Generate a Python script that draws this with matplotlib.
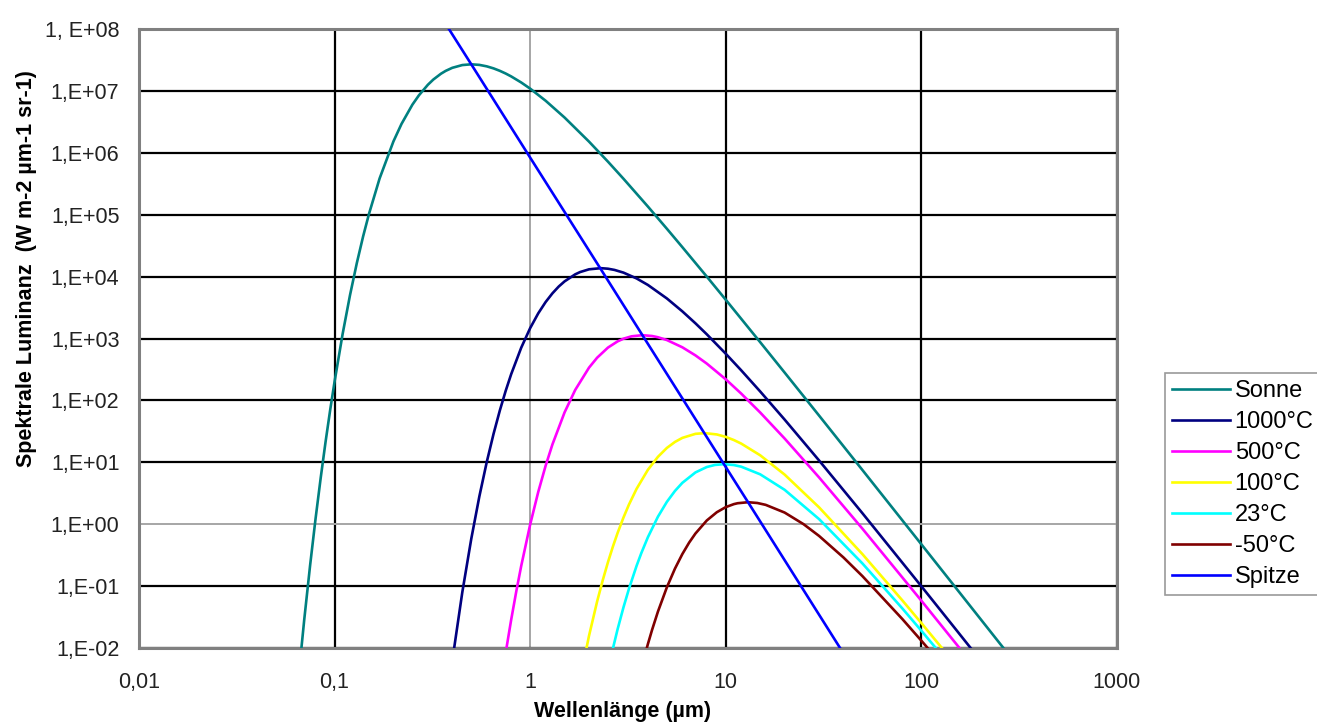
import numpy as np
import matplotlib
matplotlib.use("Agg")
import matplotlib.pyplot as plt
from matplotlib.ticker import FixedLocator, NullLocator

plt.rcParams['font.family'] = ['Liberation Sans', 'DejaVu Sans']

# values (W m-2 um-1 sr-1 over wavelength in um)
sonne_x = [0.06, 0.065, 0.07, 0.075, 0.08, 0.085, 0.09, 0.095, 0.1, 0.11, 0.12, 0.13, 0.14,
           0.15, 0.17, 0.2, 0.22, 0.25, 0.27, 0.3, 0.32, 0.35, 0.37, 0.4, 0.45, 0.5, 0.55,
           0.6, 0.65, 0.7, 0.75, 0.8, 0.9, 1, 1.2, 1.5, 2, 2.5, 3, 4, 5, 6, 8, 10, 15, 20,
           30, 50, 100, 200, 300]
sonne_y = [1.7e-4, 2.73e-3, 2.88e-2, 0.2166, 1.24, 5.67, 21.6, 70.2, 200, 1188, 5040,
           1.656e4, 4.469e4, 1.03e5, 3.858e5, 1.527e6, 2.93e6, 5.99e6, 8.485e6, 1.256e7,
           1.5267e7, 1.895e7, 2.106e7, 2.36e7, 2.615e7, 2.688e7, 2.631e7, 2.492e7, 2.31e7,
           2.109e7, 1.907e7, 1.713e7, 1.368e7, 1.088e7, 6.934e6, 3.71e6, 1.515e6, 7.185e5,
           3.81e5, 1.354e5, 5.932e4, 2.99e4, 1.0e4, 4229, 872, 281.8, 56.9, 7.49, 0.474,
           0.0298, 5.9e-3]

t1000_x = [0.4, 0.45, 0.5, 0.55, 0.6, 0.65, 0.7, 0.75, 0.8, 0.9, 1, 1.1, 1.2, 1.3, 1.4,
           1.5, 1.7, 1.8, 2, 2.3, 2.5, 2.7, 3, 3.5, 4, 5, 6, 7, 8, 10, 12, 15, 20, 30, 50,
           100, 150, 200]
t1000_y = [6.24e-3, 0.0798, 0.58, 2.815, 10.1, 28.82, 68.9, 143.1, 265.7, 709.2, 1470,
           2551, 3886, 5371, 6912, 8377, 1.0881e4, 1.1841e4, 1.3115e4, 1.3686e4, 1.341e4,
           1.2815e4, 1.1597e4, 9345, 7329, 4438, 2745, 1760, 1169.6, 568, 305.9, 139.5,
           49.0, 10.71, 1.503, 0.0995, 0.02004, 6.4e-3]

t500_x = [0.7, 0.75, 0.8, 0.85, 0.9, 1, 1.1, 1.2, 1.3, 1.5, 1.7, 2, 2.2, 2.5, 2.8, 3, 3.3,
          3.75, 4.2, 4.5, 5, 6, 7, 8, 10, 12, 15, 20, 30, 50, 100, 150, 200]
t500_y = [2.02e-3, 8.41e-3, 0.0287, 0.0832, 0.2112, 0.986, 3.323, 8.81, 19.46, 64.2,
          147.7, 338.4, 489.5, 713.8, 899.6, 992.9, 1085.3, 1131, 1097.7, 1049, 944.7,
          721.1, 533.7, 393.4, 219.3, 128.8, 63.8, 24.23, 5.70, 0.845, 0.0582, 0.01187,
          3.82e-3]

t100_x = [1.8, 2, 2.2, 2.35, 2.5, 2.65, 2.8, 3, 3.2, 3.5, 4, 4.5, 5, 5.5, 6, 7, 7.8, 9,
          10, 11, 12, 15, 20, 30, 50, 80, 100, 150]
t100_y = [3.14e-3, 0.01578, 0.0565, 0.1243, 0.2444, 0.4372, 0.7236, 1.283, 2.077, 3.726,
          7.573, 12.256, 17.07, 21.35, 24.82, 28.83, 29.63, 28.19, 25.75, 22.90, 20.06,
          12.99, 6.335, 1.874, 0.3279, 0.05869, 0.02531, 5.35e-3]

t23_x = [2.6, 2.8, 3, 3.2, 3.5, 3.7, 4, 4.5, 5, 5.5, 6, 7, 8, 8.8, 9.8, 11, 12, 15, 20,
         30, 50, 80, 100, 150]
t23_y = [7.69e-3, 0.02016, 0.04543, 0.09048, 0.2124, 0.3407, 0.6177, 1.321, 2.297, 3.449,
         4.664, 6.866, 8.396, 9.069, 9.33, 9.038, 8.498, 6.399, 3.596, 1.21, 0.2321,
         0.0435, 0.01904, 4.099e-3]

tm50_x = [3.8, 4, 4.2, 4.5, 5, 5.5, 6, 6.5, 7, 8, 9, 10, 11, 11.5, 13, 14.5, 16, 20, 25,
          30, 40, 50, 80, 100, 120]
tm50_y = [6.43e-3, 0.01162, 0.0196, 0.03866, 0.09566, 0.1918, 0.3298, 0.5051, 0.7079,
          1.1495, 1.5616, 1.889, 2.111, 2.183, 2.266, 2.203, 2.055, 1.5425, 1.0009, 0.6467,
          0.2899, 0.14484, 0.02934, 0.013151, 6.728e-3]

spitze_x = [0.35, 0.5, 1, 2.28, 3.75, 7.77, 9.79, 13, 40]
spitze_y = [1.594e8, 2.69e7, 8.37e5, 1.37e4, 1131, 29.6, 9.33, 2.27, 8.18e-3]

series = [
    ("Sonne", sonne_x, sonne_y, "#008080"),
    ("1000°C", t1000_x, t1000_y, "#000080"),
    ("500°C", t500_x, t500_y, "#FF00FF"),
    ("100°C", t100_x, t100_y, "#FFFF00"),
    ("23°C", t23_x, t23_y, "#00FFFF"),
    ("-50°C", tm50_x, tm50_y, "#800000"),
    ("Spitze", spitze_x, spitze_y, "#0000FF"),
]

x_ticks = [0.01, 0.1, 1, 10, 100, 1000]
x_labels = ["0,01", "0,1", "1", "10", "100", "1000"]
y_ticks = [1e-2, 1e-1, 1e0, 1e1, 1e2, 1e3, 1e4, 1e5, 1e6, 1e7, 1e8]
y_labels = ["1,E-02", "1,E-01", "1,E+00", "1,E+01", "1,E+02", "1,E+03", "1,E+04",
            "1,E+05", "1,E+06", "1,E+07", "1, E+08"]

fig = plt.figure(figsize=(13.17, 7.23), dpi=100)
ax = fig.add_axes([0.1055, 0.1037, 0.7426, 0.8562])

for name, xs, ys, col in series:
    ax.plot(xs, ys, color=col, lw=1.9, label=name, zorder=3)

ax.set_xscale("log")
ax.set_yscale("log")
ax.set_xlim(0.01, 1000)
ax.set_ylim(1e-2, 1e8)
ax.xaxis.set_major_locator(FixedLocator(x_ticks))
ax.yaxis.set_major_locator(FixedLocator(y_ticks))
ax.xaxis.set_minor_locator(NullLocator())
ax.yaxis.set_minor_locator(NullLocator())
ax.set_xticklabels(x_labels)
ax.set_yticklabels(y_labels)
ax.tick_params(length=0, labelsize=15.5, colors="#222222")
ax.tick_params(axis="y", pad=14)
ax.tick_params(axis="x", pad=17)

ax.grid(True, color="black", lw=1.6, zorder=1)
# the lines through 1 are grey in the original
for i, g in enumerate(ax.xaxis.get_gridlines()):
    if x_ticks[i] == 1:
        g.set_color("#a6a6a6")
        g.set_linewidth(1.4)
for i, g in enumerate(ax.yaxis.get_gridlines()):
    if y_ticks[i] == 1:
        g.set_color("#a6a6a6")
        g.set_linewidth(1.4)
ax.set_axisbelow(True)

for s in ax.spines.values():
    s.set_color("#808080")
    s.set_linewidth(2.2)

fig.text(623 / 1317, 1 - 712 / 723, "Wellenlänge (µm)", ha="center", va="center",
         fontsize=15.5, fontweight="bold")
fig.text(27 / 1317, 1 - 269 / 723, "Spektrale Luminanz  (W m-2 µm-1 sr-1)", ha="center",
         va="center", rotation=90, fontsize=15.5, fontweight="bold")

leg = fig.legend(loc="upper left", bbox_to_anchor=(1165 / 1317, 1 - 373 / 723),
                 borderaxespad=0, fontsize=17, handlelength=2.45, handletextpad=0.2,
                 labelspacing=0.38, borderpad=0.3, fancybox=False, framealpha=1)
leg.get_frame().set_edgecolor("#9a9a9a")
leg.get_frame().set_linewidth(1.2)

fig.savefig("out.png", dpi=100)
